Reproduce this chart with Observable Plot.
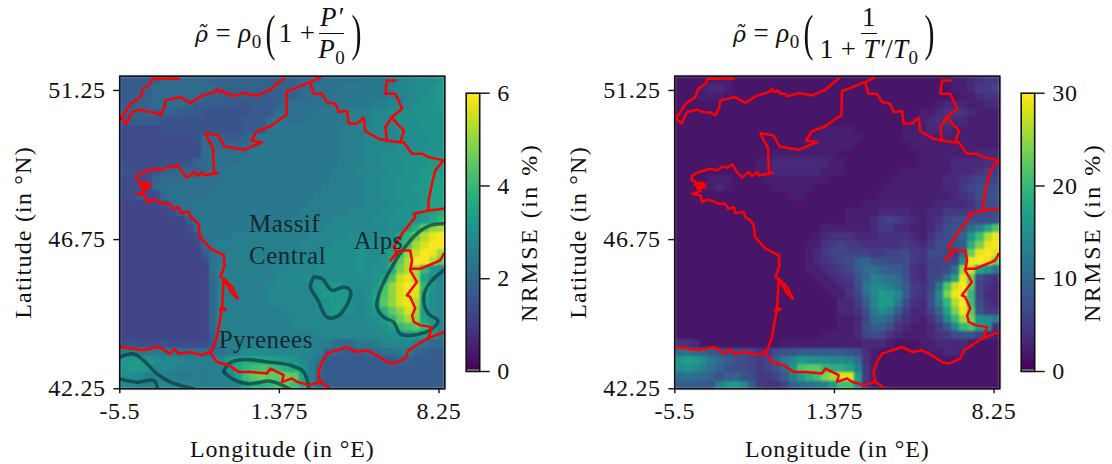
<!DOCTYPE html>
<html><head><meta charset="utf-8">
<script src="https://cdn.jsdelivr.net/npm/d3@7"></script>
<script src="https://cdn.jsdelivr.net/npm/@observablehq/plot@0.6"></script>
<style>
html,body{margin:0;padding:0;background:#fff;width:1112px;height:464px;overflow:hidden}
#root{position:relative;width:1112px;height:464px;font-family:'Liberation Serif',serif;color:#111}
.abs{position:absolute;top:0}
.eq{position:absolute;display:flex;align-items:center;font-size:27px;height:62px;top:2px;white-space:nowrap;letter-spacing:.4px}
.eq i{font-style:italic}
.eq i.rt{font-family:'DejaVu Serif';font-size:22px}
.eq sub{font-size:19px;line-height:0;vertical-align:-6px}
.paren{font-size:50px;font-weight:100;transform:scaleX(.6);line-height:52px}
.frac{display:inline-flex;flex-direction:column;align-items:center;margin:0 2px}
.frac>span{line-height:31px;padding:0 1px}
.frac>span:first-child{border-bottom:1px solid #111}
g[aria-label="x-axis tick label"] text,g[aria-label="y-axis tick label"] text{letter-spacing:.7px}
g[aria-label="x-axis label"] text{letter-spacing:.9px}
g[aria-label="y-axis label"] text{letter-spacing:1.2px}
.cbar g[aria-label="y-axis label"] text{letter-spacing:2.5px}
g[aria-label="text"] text{letter-spacing:.5px}
</style></head><body><div id="root"></div>
<script>
// Rows run north to south; one base-36 digit per grid cell (0 to z spans the colour scale).
const rowsPressure = [
"aaaab ccccc cbbbb bbbbb bbccc ddddd eeeef gghhi",
"aaabc ccccd ccbbb bbbbb bbccd ddeee eeefg ghhij",
"aabbc ccccc bbbaa aaaaa bbcdd dddee eeeff gghij",
"aabbc cccba aaaaa 9aaab cdddd deeee effgg ghiij",
"abbbb bbaaa 99999 9aaad dddde eeeff fgghh hiiii",
"9aaaa 99999 99999 aaade dddee eeeff fgggh hhiii",
"88888 99999 99999 aaade eeeee eefff ggggh hhiii",
"88888 88889 ccbaa bdeee eeeee eefff ggggh hhhii",
"88888 88888 ccccb cdeee eeeee eefff ggggh hhhii",
"88888 88888 cdddd deeee eeeee eefff gghhh hiiii",
"88888 9999b cdddd eeeee eeeee eefff gghhh iiijj",
"99889 bbcbb cddee eeeee eeeee efffg ggghh iijjj",
"8888b cccdd dddee eeeee eeeee effff gghhi iijkk",
"8888c cdddd ddeee eeeee eeeee fffff gghhi ijjkk",
"88a88 cdddd deeee eeeee eeeef fffff gghhi iijkk",
"77777 9cdde eeeee eeeee eeeff fffff ggghh iijkk",
"77777 79cde eeeee eeeee eefff fffgg gghhi iijkl",
"77777 777ad eeeee eeeee effff fgggg ghhii iijln",
"77777 7778c eeeee eeeef fffff ggggg ggghh jmqtu",
"77777 77778 deeef fffff fffgg ggghh ghhik nrvyz",
"77777 77778 cefff fffff ffggg ghhhi hhhjm puxzz",
"77777 77777 adeff fffff fgggg hhhhi hhikp twzyu",
"77777 77777 8deff fffff fgggg hhhhi hhilq vzzvq",
"77777 77777 7dfff ffffg ggggh hhhhi hiims vunjh",
"77777 77777 7cfff ffffg gghhh hhhhh hikpw yukhg",
"77777 77777 7cfff fffgg ggghi ijihh hjotx zynig",
"77777 77777 7cfff fffgg ggggi jjjhg hkptx yxlhg",
"77777 77777 7cfff fffgg ggggh ijjhg hkqtx yvkhg",
"77777 77777 7cfff fffff ggggh ijihg hjmqt xujhg",
"77777 77777 7cfff fffff fgggg hhggg hhjnr utkig",
"77777 77777 7cfff fffff fgggg ggggg ghhjn pqnjf",
"77777 77777 7bfff fffff ffffg ggggg gghhi jjjie",
"89888 98888 8aeff fffff fffff fdcce efggg gfdcc",
"eeeee eeddd dddef hhhgg ggggf bcbab ccdde ecbaa",
"ijjih gggff ffgjk llkkj jigfd aaaaa aaaab baaaa",
"ijjig ggfff fffhl nopon mlifc aaaaa aaaaa aaaaa",
"hhgff ffeef effgk oqrqq rqkfb aaaaa aaaaa aaaaa",
"ggfff ggggf ffffg kmmnp qolgb aaaaa aaaaa aaaaa"];
const rowsTemperature = [
"22223 33222 22222 22222 22222 22222 22223 34566",
"22234 43222 22222 22222 22222 22222 22223 34667",
"22233 32222 22222 22222 22222 22222 22222 33455",
"22222 22222 22222 22222 22222 22222 22344 43344",
"22222 22222 22222 22222 22222 22222 33455 54333",
"22222 22222 22222 22222 22222 22223 34554 43333",
"22222 22222 22222 22233 33222 22233 34443 33333",
"22222 22222 22222 22333 33322 22233 33333 33333",
"22222 22222 22222 23333 33222 22223 33333 33333",
"22222 22222 22333 33333 22222 22222 33333 33444",
"22222 22222 33444 44443 32222 22222 33334 44455",
"22222 22222 33444 44433 32222 22233 33334 44566",
"22223 33222 23333 33332 22222 22333 33344 56777",
"22233 43222 22333 33222 22222 23333 33344 67888",
"22222 22222 22223 32222 22222 33333 33334 56889",
"22222 22222 22222 22222 22233 33333 33444 45788",
"22222 22222 22222 22222 23333 44443 34466 66778",
"22222 22222 22222 22222 23334 67654 34578 88889",
"22222 22222 22222 22233 33334 66443 34689 9cflp",
"22222 22222 22222 22345 55444 55554 35789 biovy",
"22222 22222 22222 23356 76655 55565 46889 amsyz",
"22222 22222 22222 23467 77776 67786 58876 cryzx",
"22222 22222 22222 23456 78ab9 88886 57777 hyzyr",
"22222 22222 22222 23345 67acd baa85 4778d twkid",
"22222 22222 22222 22334 569cf edc95 478dk yr865",
"22222 22222 22222 22233 458eg gfda6 57epw zq754",
"22222 22222 22222 22223 357cg jiga6 58gsy zn744",
"22222 22222 22222 22222 446ag jje85 48fnv zo854",
"22222 22222 22222 22222 4458e hfa64 47bks yq966",
"22222 22222 22222 22222 3347c db754 358gn usihe",
"22222 22222 22222 22222 3348a a8543 3469g npjh5",
"22222 22222 22222 22233 33478 75433 34568 99743",
"55422 22222 22233 33333 33344 43222 33444 43222",
"cdcba 98887 56899 aaaaa a9853 22222 23344 32222",
"ikjhe ca987 67aeg jihhg gfc53 22222 22222 22222",
"hihfd b9887 679ci pqqnm mkf63 22222 22222 22222",
"cdccb 9ab98 667af jmosu xxj63 22222 22222 22222",
"aaaa9 fijga 6557b cdefj ooh53 22222 22222 22222"];

const lonExtent = [-5.5, 8.5];
const latExtent = [42.25, 51.68];
const lonTicks = [-5.5, 1.375, 8.25];
const latTicks = [42.25, 46.75, 51.25];
const lonTickLabels = ["-5.5", "1.375", "8.25"];
const latTickLabels = ["42.25", "46.75", "51.25"];

// Outlines in [longitude, latitude]
const england = [[-5.44,50.40],[-5.21,50.25],[-4.97,50.60],[-4.54,50.67],[-4.35,50.62],[-4.25,50.60],[-3.95,50.58],[-3.75,50.50],[-3.60,50.72],[-3.53,50.95],[-2.89,51.05],[-2.46,50.87],[-2.03,51.07],[-1.45,51.20],[-1.31,51.30],[-1.25,51.20],[-1.05,51.25],[-0.95,51.15],[-0.74,51.15],[-0.65,51.07],[-0.16,51.17],[0.41,51.10],[0.99,51.27],[1.27,51.45],[1.56,51.60]];
const englandNorth = [[-5.44,50.40],[-5.04,50.85],[-4.61,51.05],[-4.50,51.30],[-4.18,51.45],[-4.10,51.60],[-2.96,51.60]];
const franceAtlantic = [[3.14,51.65],[2.71,51.50],[1.70,51.23],[1.68,50.50],[1.49,50.43],[0.99,50.17],[0.41,50.02],[0.16,49.74],[0.63,49.69],[-0.16,49.46],[-0.99,49.56],[-1.24,49.89],[-1.81,49.96],[-1.67,49.74],[-1.48,49.52],[-1.45,48.79],[-1.28,48.76],[-1.88,48.69],[-1.96,48.79],[-2.17,48.67],[-2.31,48.79],[-2.60,48.62],[-2.82,48.79],[-3.03,49.02],[-3.25,48.92],[-3.46,48.96],[-3.68,48.84],[-3.96,48.89],[-4.47,48.79],[-4.75,48.69],[-4.78,48.56],[-4.61,48.49],[-4.25,48.39],[-4.54,48.29],[-4.18,48.34],[-4.64,48.41],[-4.30,48.47],[-4.55,48.36],[-4.20,48.42],[-4.50,48.32],[-4.39,48.22],[-4.75,48.13],[-4.39,48.08],[-4.32,47.88],[-4.11,47.95],[-3.89,47.93],[-3.60,47.83],[-3.32,47.83],[-3.20,47.68],[-2.96,47.73],[-2.89,47.55],[-2.53,47.58],[-2.46,47.43],[-2.24,47.33],[-2.10,47.18],[-2.05,46.83],[-1.59,46.48],[-1.02,46.28],[-0.99,45.97],[-1.16,45.62],[-0.95,45.52],[-0.66,45.32],[-0.42,44.97],[-0.66,45.12],[-1.02,45.57],[-1.09,44.72],[-1.17,44.62],[-0.95,44.64],[-1.09,44.72],[-1.31,43.81],[-1.52,43.41],[-1.95,43.26],[-2.46,43.36],[-2.96,43.31],[-3.15,43.45],[-3.35,43.31],[-3.82,43.52],[-4.47,43.41],[-5.47,43.51]];
const pyreneesBorder = [[-1.60,43.33],[-1.31,43.06],[-0.81,42.96],[-0.38,42.76],[0.13,42.76],[0.84,42.71],[0.99,42.86],[1.56,42.66],[1.49,42.46],[1.92,42.56],[2.13,42.46],[2.64,42.36],[3.14,42.46],[3.50,42.29]];
const mediterranean = [[3.14,42.46],[3.05,42.75],[3.21,43.06],[3.43,43.31],[4.29,43.51],[4.72,43.36],[5.15,43.41],[5.58,43.26],[6.01,43.06],[6.30,43.01],[6.80,43.16],[6.94,43.41],[7.73,43.76],[8.45,43.96]];
const alpsBorder = [[7.80,43.76],[7.95,44.11],[7.44,44.17],[7.16,44.27],[7.09,44.47],[7.23,44.67],[7.01,45.02],[6.87,45.07],[7.30,45.47],[7.01,45.82],[7.09,46.12],[7.01,46.42],[6.51,46.42],[6.15,46.12],[6.44,46.32],[6.30,46.52],[6.66,46.93],[7.23,47.43],[7.16,47.53],[7.80,47.63],[8.45,47.68]];
const rhine = [[7.80,47.63],[7.80,47.93],[7.95,48.44],[8.09,48.84],[8.45,49.14]];
const italySwiss = [[7.01,45.87],[7.44,45.87],[8.30,46.12],[8.45,46.32]];
const northeast = [[8.45,49.14],[7.80,49.24],[7.52,49.34],[7.09,49.34],[6.73,49.69],[6.51,49.69],[6.01,49.74],[5.65,49.79],[5.08,50.02],[5.00,50.43],[4.72,50.25],[4.36,50.25],[4.29,50.63],[3.93,50.60],[3.78,50.85],[3.43,50.90],[3.21,51.15],[2.85,51.15],[2.71,51.47]];
const luxembourg = [[6.01,49.74],[5.94,50.14],[6.22,50.45],[6.44,50.25],[6.75,50.04],[6.58,49.69]];
const germanyWest = [[6.22,50.45],[6.66,50.70],[6.44,51.05],[6.37,51.15],[5.94,51.15],[6.01,51.55],[6.37,51.55]];
const borders = [england, englandNorth, franceAtlantic, pyreneesBorder, mediterranean, alpsBorder, rhine, italySwiss, northeast, luxembourg, germanyWest];

const contourMassif = [[2.85,45.62],[2.71,45.32],[3.00,44.97],[3.43,44.41],[3.93,44.46],[4.43,45.02],[4.43,45.22],[4.14,45.32],[3.64,45.22],[3.21,45.57],[2.85,45.62]];
const contourAlps = [[8.45,47.23],[7.88,47.18],[7.30,46.93],[6.73,46.47],[6.30,46.02],[5.72,45.22],[5.58,44.72],[5.87,44.41],[6.30,44.26],[6.58,43.91],[7.09,43.86],[7.95,44.06],[8.20,44.31],[7.80,44.51],[7.59,44.92],[7.73,45.32],[8.02,45.57],[8.45,45.82]];
const contourPyrenees = [[-1.02,42.76],[-0.81,43.01],[-0.16,43.13],[0.84,43.06],[1.85,42.96],[2.42,42.76],[2.64,42.25]];
const contourPyreneesLow = [[-1.02,42.76],[-0.65,42.55],[0.0,42.40],[0.99,42.48],[1.49,42.36],[1.80,42.25]];
const contourSpain = [[-5.5,43.20],[-4.90,43.30],[-4.47,43.10],[-3.89,42.70],[-3.32,42.45],[-2.32,42.25]];
const contourSpainLow = [[-5.5,42.55],[-4.75,42.45],[-4.04,42.50],[-3.87,42.25]];
const contours = [contourMassif, contourAlps, contourPyrenees, contourPyreneesLow, contourSpain, contourSpainLow];

const regionNames = ["Massif", "Central", "Alps", "Pyrenees"];
const regionLon = [0.07, 0.07, 4.58, -1.24];
const regionLat = [46.98, 46.02, 46.47, 43.49];

const colorbarTicksPressure = [0, 2, 4, 6];
const colorbarTicksTemperature = [0, 10, 20, 30];
const FONT = "'Liberation Serif', serif";

function decode(rows, max) {
  return rows.flatMap(r => [...r.replace(/ /g, "")].map(c => parseInt(c, 36) * max / 35));
}
function panel(rows, max, withNames, withContours) {
  const marks = [
    Plot.raster(decode(rows, max), {width: 40, height: rows.length, x1: lonExtent[0], x2: lonExtent[1], y1: latExtent[1], y2: latExtent[0], imageRendering: "pixelated"})
  ];
  if (withContours) for (const c of contours) marks.push(Plot.line(c, {stroke: "#0c3b3e", strokeOpacity: 0.7, strokeWidth: 3.5, clip: true, curve: "catmull-rom"}));
  for (const b of borders) marks.push(Plot.line(b, {stroke: "#ff0000", strokeWidth: 2.5, clip: true, strokeLinejoin: "round"}));
  if (withNames) marks.push(Plot.text(regionNames, {x: (d, i) => regionLon[i], y: (d, i) => regionLat[i], text: d => d, textAnchor: "start", lineAnchor: "bottom", fontSize: 25, fill: "#0b1f24", fillOpacity: 0.92}));
  marks.push(
    Plot.frame({stroke: "#111", strokeWidth: 1.6}),
    Plot.axisX({ticks: lonTicks, tickFormat: (d, i) => lonTickLabels[i], tickSize: 5, tickPadding: 8, fontSize: 24, strokeWidth: 1.4, label: "Longitude (in °E)", labelAnchor: "center", labelArrow: "none", labelOffset: 68}),
    Plot.axisY({ticks: latTicks, tickFormat: (d, i) => latTickLabels[i], tickSize: 6, tickPadding: 8, fontSize: 24, strokeWidth: 1.4, label: "Latitude (in °N)", labelAnchor: "center", labelArrow: "none", labelOffset: 106})
  );
  const svg = Plot.plot({
    width: 444.3, height: 464, marginLeft: 119.3, marginRight: 0, marginTop: 75.7, marginBottom: 75.7,
    style: {fontFamily: FONT, fontSize: "25px", background: "transparent", color: "#111", overflow: "visible"},
    x: {domain: lonExtent}, y: {domain: latExtent},
    color: {type: "linear", scheme: "viridis", domain: [0, max]},
    marks
  });
  svg.querySelector("image").style.filter = "blur(1.2px)";
  return svg;
}
function colorbar(max, ticks, labelOffset) {
  const levels = d3.range(0, 128).map(i => (127 - i) / 127 * max);
  const svg = Plot.plot({
    width: 92, height: 464, marginLeft: 0.7, marginRight: 77.8, marginTop: 92.7, marginBottom: 93,
    style: {fontFamily: FONT, fontSize: "25px", background: "transparent", color: "#111", overflow: "visible"},
    x: {domain: [0, 1], axis: null}, y: {domain: [0, max]},
    color: {type: "linear", scheme: "viridis", domain: [0, max]},
    marks: [
      Plot.raster(levels, {width: 1, height: 128, x1: 0, x2: 1, y1: max, y2: 0}),
      Plot.rect([0], {x1: 0, x2: 1, y1: d => d, y2: max * 0.006, fill: "#8c8c8c"}),
      Plot.frame({stroke: "#111", strokeWidth: 1.6}),
      Plot.axisY({anchor: "right", ticks, tickSize: 9.5, tickPadding: 8, fontSize: 24, strokeWidth: 1.4, label: "NRMSE (in %)", labelAnchor: "center", labelArrow: "none", labelOffset, tickFormat: d => String(d)})
    ]
  });
  svg.classList.add("cbar");
  return svg;
}
function place(node, left) { node.classList.add("abs"); node.style.left = left + "px"; root.appendChild(node); }
const root = document.getElementById("root");
place(panel(rowsPressure, 6, true, true), 0);
place(panel(rowsTemperature, 30, false, false), 555.4);
place(colorbar(6, colorbarTicksPressure, 57), 464.5);
place(colorbar(30, colorbarTicksTemperature, 65.5), 1020);

function eq(left, inner) {
  const d = document.createElement("div");
  d.className = "eq"; d.style.left = left + "px";
  d.innerHTML = `<span><i class="rt">ρ̃</i> = <i>ρ</i><sub>0</sub></span><span class="paren">(</span>${inner}<span class="paren">)</span>`;
  root.appendChild(d);
}
eq(195, `<span>1 + </span><span class="frac"><span><i>P′</i></span><span><i>P</i><sub>0</sub></span></span>`);
eq(733, `<span class="frac"><span>1</span><span>1 + <i>T′</i>/<i>T</i><sub>0</sub></span></span>`);
</script></body></html>
